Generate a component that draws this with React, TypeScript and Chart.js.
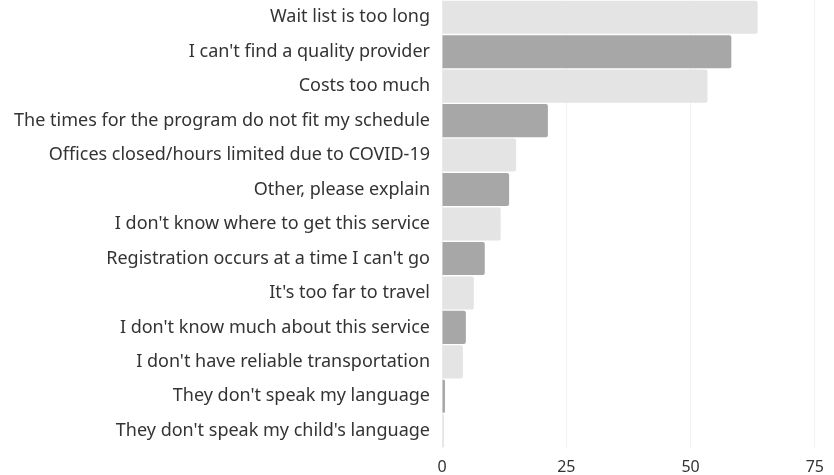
import React, { useEffect, useRef } from "react";
import { Chart, registerables } from "chart.js";

Chart.register(...registerables);

const categories = [
  "Wait list is too long",
  "I can't find a quality provider",
  "Costs too much",
  "The times for the program do not fit my schedule",
  "Offices closed/hours limited due to COVID-19",
  "Other, please explain",
  "I don't know where to get this service",
  "Registration occurs at a time I can't go",
  "It's too far to travel",
  "I don't know much about this service",
  "I don't have reliable transportation",
  "They don't speak my language",
  "They don't speak my child's language",
];

const values = [63.5, 58.2, 53.4, 21.3, 14.9, 13.5, 11.8, 8.6, 6.4, 4.8, 4.2, 0.6, 0.4];

const xTicks = [0, 25, 50, 75];

const LIGHT = "#e4e4e4";
const DARK = "#a7a7a7";

export default function App() {
  const ref = useRef<HTMLCanvasElement>(null);
  useEffect(() => {
    document.body.style.margin = "0";
    const ctx = ref.current!;
    const chart = new Chart(ctx, {
      type: "bar",
      data: {
        labels: categories,
        datasets: [
          {
            data: values,
            backgroundColor: values.map((_, i) => (i % 2 === 0 ? LIGHT : DARK)),
            borderWidth: 0,
            borderRadius: 2,
            barPercentage: 0.96,
            categoryPercentage: 1,
          },
        ],
      },
      options: {
        indexAxis: "y",
        animation: false,
        responsive: false,
        maintainAspectRatio: false,
        layout: { padding: { left: 0, right: 19, top: 0, bottom: 0 } },
        plugins: { legend: { display: false }, tooltip: { enabled: false } },
        scales: {
          x: {
            min: 0,
            max: 75,
            afterBuildTicks: (s: any) => {
              s.ticks = xTicks.map((v) => ({ value: v }));
            },
            afterFit: (s: any) => {
              s.height = 27;
            },
            grid: { color: "#f1f1f1", drawTicks: false, lineWidth: 1 },
            border: { display: false },
            ticks: {
              color: "#333333",
              font: { family: "Noto Sans", size: 16 },
              padding: 10,
            },
          },
          y: {
            afterFit: (s: any) => {
              s.width = 442;
              s.paddingTop = 0;
              s.paddingBottom = 0;
            },
            grid: { display: false, drawTicks: false },
            border: { display: false },
            ticks: {
              color: "#333333",
              font: { family: "Noto Sans", size: 18 },
              padding: 12,
            },
          },
        },
      },
    });
    return () => chart.destroy();
  }, []);
  return (
    <canvas
      ref={ref}
      width={834}
      height={475}
      style={{ position: "fixed", left: 0, top: 0, width: 834, height: 475 }}
    />
  );
}
